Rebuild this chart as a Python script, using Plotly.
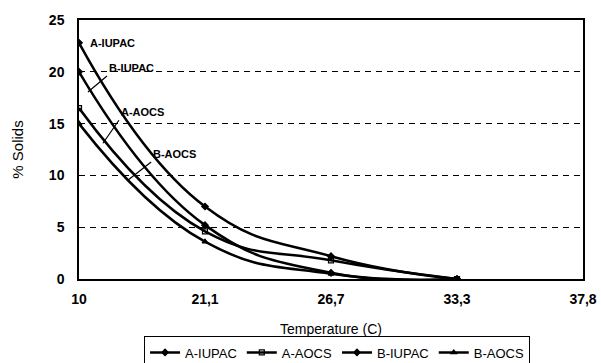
import plotly.graph_objects as go

# ---- data ----
temperatures = ["10", "21,1", "26,7", "33,3", "37,8"]
measured_temps = ["10", "21,1", "26,7", "33,3"]
a_iupac = [22.8, 7.0, 2.2, 0.0]
a_aocs = [16.5, 4.6, 1.8, 0.0]
b_iupac = [20.0, 5.2, 0.6, 0.0]
b_aocs = [15.0, 3.6, 0.5, 0.0]
y_ticks = [0, 5, 10, 15, 20, 25]

FONT = "Liberation Sans, Arial, sans-serif"

series = [
    ("A-IUPAC", a_iupac, "diamond"),
    ("A-AOCS", a_aocs, "square-open"),
    ("B-IUPAC", b_iupac, "diamond"),
    ("B-AOCS", b_aocs, "triangle-up"),
]

fig = go.Figure()
for name, vals, sym in series:
    fig.add_trace(go.Scatter(
        x=measured_temps, y=vals, name=name, mode="lines+markers",
        line=dict(color="black", width=2.5, shape="spline", smoothing=1.3),
        marker=dict(symbol=sym, size=5, color="black",
                    line=dict(color="black", width=1.2)),
    ))

# curve labels
label_font = dict(family=FONT, size=11, color="black", weight="bold")
fig.add_annotation(x=0, y=a_iupac[0], text="A-IUPAC", showarrow=False,
                   xanchor="left", yanchor="middle", xshift=9, font=label_font)
for name, hx, hy, ax, ay in [
    ("B-IUPAC", 0.071, 18.05, 19, -16),
    ("A-AOCS", 0.19, 13.1, 16, -23),
    ("B-AOCS", 0.39, 9.56, 23, -18),
]:
    fig.add_annotation(x=hx, y=hy, text=name, showarrow=True, arrowhead=0,
                       arrowwidth=1.2, arrowcolor="black", ax=ax, ay=ay,
                       xanchor="left", yanchor="bottom", standoff=0,
                       font=label_font)

fig.update_layout(
    width=601, height=363,
    margin=dict(l=79, r=18, t=20, b=84, autoexpand=False),
    paper_bgcolor="white", plot_bgcolor="white",
    font=dict(family=FONT, color="black"),
    showlegend=True,
    legend=dict(orientation="h", x=0.512, xanchor="center", y=-0.222,
                yanchor="top", bordercolor="black", borderwidth=1,
                font=dict(family=FONT, size=13, color="black"),
                itemwidth=30, tracegroupgap=0),
    xaxis=dict(
        type="category", categoryorder="array", categoryarray=temperatures,
        range=[0, 4], showgrid=False, zeroline=False,
        showline=True, mirror=True, linecolor="black", linewidth=1.5,
        ticks="", ticklabelstandoff=6,
        tickfont=dict(family=FONT, size=14, color="black", weight="bold"),
        title=dict(text="Temperature (C)", standoff=19,
                   font=dict(family=FONT, size=14, color="black")),
    ),
    yaxis=dict(
        range=[0, 25], tickvals=y_ticks, showgrid=True, gridcolor="black",
        gridwidth=1, griddash="6px,5px", zeroline=False,
        showline=True, mirror=True, linecolor="black", linewidth=1.5,
        ticks="", ticklabelstandoff=10,
        tickfont=dict(family=FONT, size=14, color="black", weight="bold"),
        title=dict(text="% Solids", standoff=22,
                   font=dict(family=FONT, size=15, color="black")),
    ),
)

fig.write_html("out.html")
